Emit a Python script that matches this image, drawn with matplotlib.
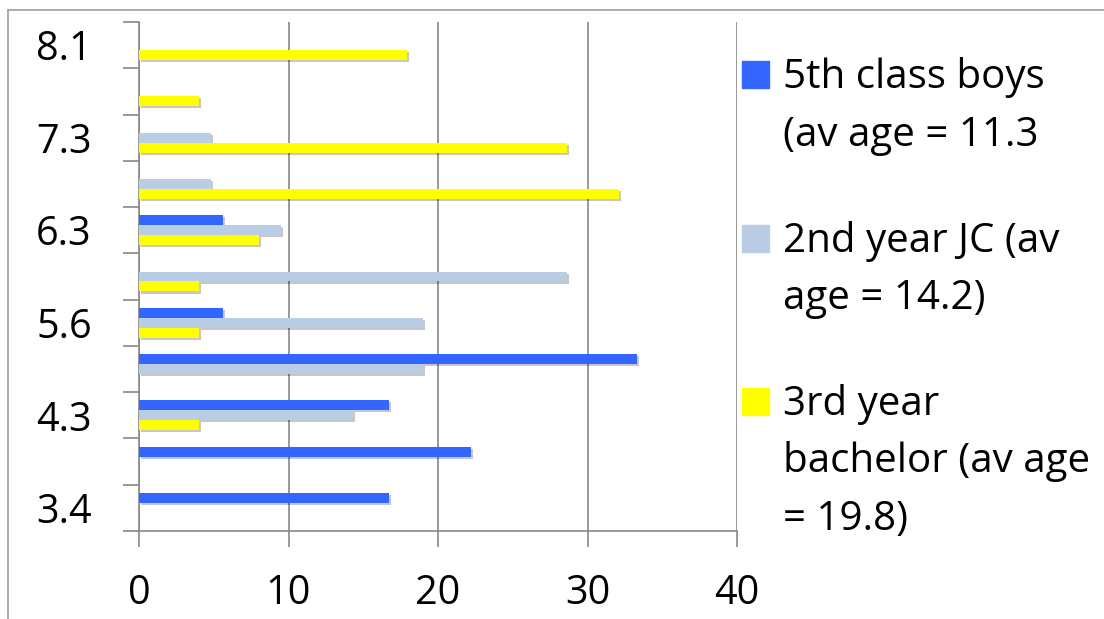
import matplotlib
matplotlib.use("Agg")
import matplotlib.pyplot as plt
import matplotlib.patheffects as pe
from matplotlib.lines import Line2D
from matplotlib.patches import Rectangle
import numpy as np

# categories bottom -> top, only every other one carries a label
tick_labels = ["3.4", "4.3", "5.6", "6.3", "7.3", "8.1"]
n_cat = 11

boys_5th = [16.7, 22.2, 16.7, 33.3, 5.6, 0, 5.6, 0, 0, 0, 0]
jc_2nd = [0, 0, 14.3, 19.0, 19.0, 28.6, 9.5, 4.8, 4.8, 0, 0]
bachelor_3rd = [0, 0, 4.0, 0, 4.0, 4.0, 8.0, 32.1, 28.6, 4.0, 17.9]

series_names = ["5th class boys\n(av age = 11.3",
                "2nd year JC (av\nage = 14.2)",
                "3rd year\nbachelor (av age\n= 19.8)"]
colors = ["#3366FF", "#B9CDE5", "#FFFF00"]

font = "Open Sans"
grey = "#888888"

W, H = 1104, 619
fig = plt.figure(figsize=(W / 100, H / 100), dpi=100)
ax = fig.add_axes([139 / W, (H - 531) / H, 598 / W, 509 / H])

y = np.arange(n_cat)
h = 0.216
shadow = [pe.SimplePatchShadow(offset=(1.5, -1.5), shadow_rgbFace="k", alpha=0.22), pe.Normal()]
for vals, off, c in zip([boys_5th, jc_2nd, bachelor_3rd], [h, 0, -h], colors):
    bars = ax.barh(y + off, vals, height=h, color=c, zorder=3)
    for b in bars:
        b.set_path_effects(shadow)

ax.set_xlim(0, 40)
ax.set_ylim(-0.5, n_cat - 0.5)
ax.set_axisbelow(True)
ax.grid(axis="x", color=grey, linewidth=1.2)
ax.set_xticks([0, 10, 20, 30, 40])
ax.tick_params(axis="x", which="major", length=11.5, width=1.2, color=grey,
               pad=19, labelsize=28.5)
ax.set_yticks(np.arange(0, n_cat, 2))
ax.set_yticklabels(tick_labels)
ax.set_yticks(np.arange(-0.5, n_cat, 1), minor=True)
ax.tick_params(axis="y", which="major", length=0, pad=34, labelsize=28.5)
ax.tick_params(axis="y", which="minor", length=11.5, width=1.2, color=grey)
for lab in ax.get_xticklabels() + ax.get_yticklabels():
    lab.set_fontfamily(font)
for s in ["top", "right"]:
    ax.spines[s].set_visible(False)
for s in ["left", "bottom"]:
    ax.spines[s].set_color(grey)
    ax.spines[s].set_linewidth(1.2)

# legend drawn by hand so the marker sits on the first line
base = 88
for name, c in zip(series_names, colors):
    lines = name.split("\n")
    fig.patches.append(Rectangle((742 / W, 1 - base / H), 27 / W, 27 / H,
                                 transform=fig.transFigure, color=c, figure=fig))
    for i, line in enumerate(lines):
        fig.text(783 / W, 1 - (base + i * 57.5) / H, line, fontsize=29,
                 family=font, va="baseline", ha="left")
    base += (len(lines) - 1) * 57.5 + 106

# chart frame
fig.add_artist(Line2D([8 / W, 1], [1 - 10 / H, 1 - 10 / H], color="#A6A6A6", lw=1.3))
fig.add_artist(Line2D([8 / W, 8 / W], [0, 1 - 10 / H], color="#A6A6A6", lw=1.3))

fig.savefig("out.png", dpi=100)
